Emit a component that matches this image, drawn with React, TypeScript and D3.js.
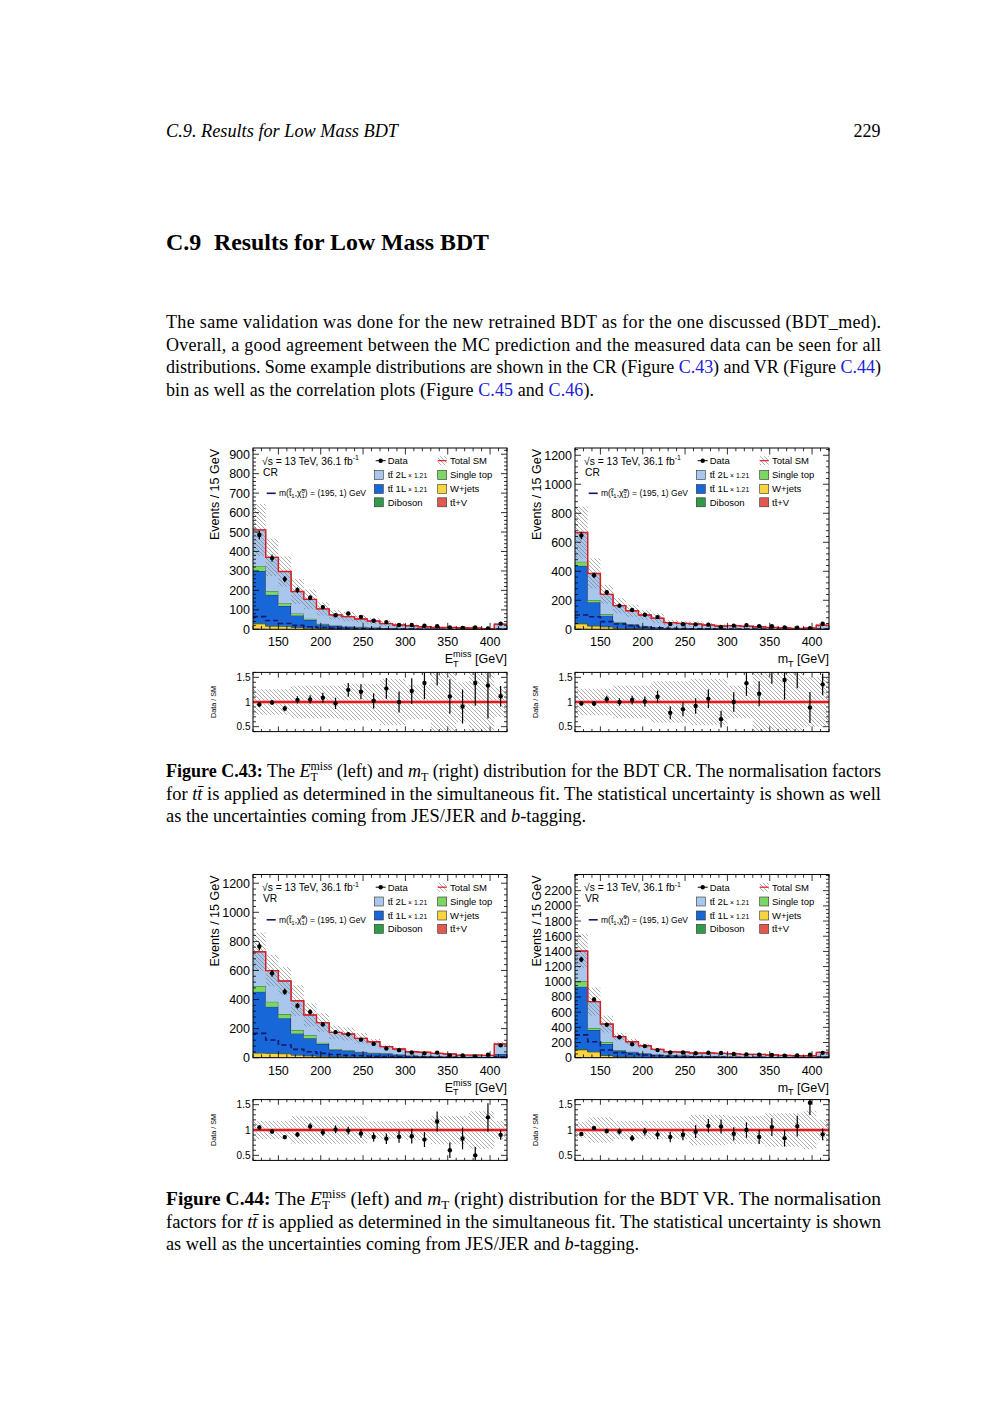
import React from 'react';
import * as d3 from 'd3';

// ---------------- data ----------------
const binEdges = [120, 135, 150, 165, 180, 195, 210, 225, 240, 255, 270, 285, 300, 315, 330, 345, 360, 375, 390, 405, 420];
const xTickLabels = [150, 200, 250, 300, 350, 400];
const ratioTickLabels = [0.5, 1, 1.5];
const yTicksCrMet = [0, 100, 200, 300, 400, 500, 600, 700, 800, 900];
const yTicksCrMt = [0, 200, 400, 600, 800, 1000, 1200];
const yTicksVrMet = [0, 200, 400, 600, 800, 1000, 1200];
const yTicksVrMt = [0, 200, 400, 600, 800, 1000, 1200, 1400, 1600, 1800, 2000, 2200];

const stackKeys = ['ttV', 'wjets', 'diboson', 'tt1L', 'singleTop', 'tt2L'];

// CR, E_T^miss
const crMetTtV = [3, 2, 2, 1.5, 1, 1, 1, 0.8, 0.6, 0.5, 0.4, 0.3, 0.3, 0.2, 0.2, 0.2, 0.1, 0.1, 0.1, 0.3];
const crMetWjets = [25, 14, 13, 8, 5, 4, 2, 2, 1.5, 1, 1, 0.5, 0.5, 0.5, 0.3, 0.3, 0.2, 0.2, 0.1, 0.5];
const crMetDiboson = [4, 3, 3, 2, 2, 1.5, 1.5, 1, 1, 1, 0.8, 0.6, 0.5, 0.5, 0.4, 0.4, 0.3, 0.3, 0.2, 0.8];
const crMetTt1L = [268, 158, 102, 60, 40, 18, 12, 8, 8, 5, 3, 2, 1.5, 1, 0.8, 0.6, 0.5, 0.3, 0.2, 1.5];
const crMetSingleTop = [26, 20, 14, 10, 6, 4, 3, 2.5, 2, 1.5, 1.2, 1, 0.8, 0.6, 0.5, 0.4, 0.3, 0.3, 0.2, 0.8];
const crMetTt2L = [185, 173, 163, 112.5, 100, 76.5, 54.5, 50.7, 39.9, 34, 22.6, 17.6, 14.4, 10.2, 6.8, 7.1, 6.3, 5.3, 2.2, 22.1];
const crMetData = [485, 366, 258, 202, 162, 114, 72, 81, 64, 44, 37, 22, 22, 18, 16, 10, 7, 9, 4, 29];
const crMetUnc = [0.26, 0.26, 0.26, 0.33, 0.33, 0.33, 0.33, 0.37, 0.37, 0.37, 0.47, 0.47, 0.35, 0.35, 0.6, 0.6, 0.4, 0.7, 0.7, 0.3];
const crMetSignal = [65, 45, 30, 20, 13, 9, 6, 4, 3, 2, 1.5, 1, 0.8, 0.6, 0.5, 0.4, 0.3, 0.3, 0.2, 0.8];

// CR, m_T
const crMtTtV = [4, 2, 2, 1, 1, 1, 0.8, 0.5, 0.5, 0.4, 0.3, 0.3, 0.3, 0.2, 0.2, 0.2, 0.1, 0.1, 0.1, 0.3];
const crMtWjets = [33, 20, 15, 6, 4, 3, 2, 1, 1, 0.8, 0.6, 0.5, 0.5, 0.4, 0.3, 0.3, 0.2, 0.2, 0.2, 0.5];
const crMtDiboson = [6, 4, 3, 3, 2, 2, 1.5, 1, 1, 0.8, 0.7, 0.6, 0.5, 0.5, 0.4, 0.3, 0.3, 0.3, 0.2, 0.8];
const crMtTt1L = [395, 160, 74, 35, 23, 12, 8, 5, 4, 3, 2.5, 2, 1.5, 1.2, 1, 0.8, 0.6, 0.5, 0.4, 2];
const crMtSingleTop = [28, 16, 9, 6, 4, 3, 2.5, 2, 1.5, 1.2, 1, 0.8, 0.7, 0.6, 0.5, 0.4, 0.3, 0.3, 0.3, 1];
const crMtTt2L = [201, 183, 138, 112, 94, 78, 61.2, 36.5, 33, 30.8, 24.9, 18.8, 21.5, 18.1, 15.6, 10, 7.5, 4.6, 7.8, 23.4];
const crMtData = [647, 373, 255, 163, 133, 100, 84, 36, 35, 34, 32, 15, 25, 29, 21, 21, 13, 11, 8, 38];
const crMtUnc = [0.27, 0.27, 0.27, 0.33, 0.33, 0.33, 0.42, 0.42, 0.42, 0.47, 0.47, 0.47, 0.33, 0.33, 0.65, 0.65, 0.65, 0.65, 0.5, 0.5];
const crMtSignal = [99, 87, 53, 37, 25, 15, 10, 7, 5, 4, 3, 2.5, 2, 1.5, 1.2, 1, 0.8, 0.6, 0.5, 2];

// VR, E_T^miss
const vrMetTtV = [5, 4, 3, 2.5, 2, 1.5, 1.2, 1, 0.8, 0.7, 0.5, 0.4, 0.3, 0.3, 0.2, 0.2, 0.2, 0.2, 0.1, 0.6];
const vrMetWjets = [26, 25, 24, 15, 10, 8, 6, 5, 4, 3, 2.5, 2, 1.5, 1.2, 1, 0.8, 0.6, 0.5, 0.4, 2];
const vrMetDiboson = [5, 4, 4, 3, 3, 3, 2, 2, 2, 1.5, 1.5, 1.2, 1, 1, 0.8, 0.7, 0.6, 0.5, 0.5, 2];
const vrMetTt1L = [418, 318, 240, 146.5, 118, 81.5, 44.8, 40, 30.2, 25.8, 23, 16.4, 10.7, 8.3, 7, 5.5, 4, 3.3, 2.6, 18.4];
const vrMetSingleTop = [39, 34, 29, 23, 23, 9, 6, 5, 4, 3, 2.5, 2, 1.5, 1.2, 1, 0.8, 0.6, 0.5, 0.4, 2];
const vrMetTt2L = [236, 214, 228, 202, 138, 138, 114, 110, 92, 76, 46, 38, 26, 25, 20, 17, 12, 13, 12, 69];
const vrMetData = [765, 581, 454, 357, 315, 229, 176, 161, 124, 95, 63, 52, 36, 30, 35, 15, 15, 9, 20, 85];
const vrMetUnc = [0.18, 0.18, 0.18, 0.27, 0.27, 0.27, 0.27, 0.27, 0.27, 0.17, 0.17, 0.17, 0.2, 0.2, 0.28, 0.28, 0.28, 0.37, 0.37, 0.18];
const vrMetSignal = [167, 122, 87, 57, 41, 30, 22, 17, 13, 10, 8, 6, 5, 4, 3, 2.5, 2, 1.5, 1.2, 6];

// VR, m_T
const vrMtTtV = [8, 5, 3, 2, 1.5, 1.2, 1, 0.8, 0.7, 0.6, 0.5, 0.5, 0.4, 0.4, 0.3, 0.3, 0.3, 0.2, 0.2, 0.6];
const vrMtWjets = [95, 70, 25, 12, 8, 6, 4, 3, 2.5, 2, 2, 1.8, 1.5, 1.2, 1, 1, 0.8, 0.7, 0.6, 2];
const vrMtDiboson = [10, 8, 6, 5, 4, 3, 3, 2.5, 2, 2, 2, 1.8, 1.5, 1.4, 1.2, 1, 1, 0.8, 0.8, 2.5];
const vrMtTt1L = [822, 281, 146, 71, 58.5, 41.8, 30, 23.7, 20.3, 17.4, 13.5, 11.1, 9.1, 7.8, 6.5, 5.2, 4.1, 3.6, 2.8, 12.9];
const vrMtSingleTop = [75, 27, 26, 10, 7, 5, 4, 3, 2.5, 2, 2, 1.8, 1.5, 1.2, 1, 1, 0.8, 0.7, 0.6, 2];
const vrMtTt2L = [395, 347, 237, 177, 132, 101, 68, 46, 47, 37, 41, 40, 39, 32, 34, 26.5, 24, 20, 21, 50];
const vrMtData = [1293, 768, 434, 269, 177, 153, 100, 68, 68, 59, 66, 61, 49, 44, 38, 37, 26, 28, 40, 64];
const vrMtUnc = [0.16, 0.25, 0.25, 0.18, 0.18, 0.18, 0.18, 0.18, 0.18, 0.3, 0.3, 0.3, 0.28, 0.28, 0.28, 0.33, 0.33, 0.33, 0.38, 0.2];
const vrMtSignal = [300, 211, 101, 66, 48, 35, 25, 18, 14, 11, 9, 7, 6, 5, 4, 3.5, 3, 2.5, 2, 6];

// ---------------- style ----------------
const stackFills: Record<string, string> = {
  ttV: '#e3574f',
  wjets: '#f8d43e',
  diboson: '#2f9a48',
  tt1L: '#1767d9',
  singleTop: '#79d762',
  tt2L: '#a9c7ec',
};
const signalColor = '#15156c';
const totalColor = '#e3191d';
const hatchColor = '#767676';
const SANS = "'Liberation Sans', Arial, Helvetica, sans-serif";
const SERIF = "'Liberation Serif', 'Times New Roman', serif";
const linkBlue = '#2020d8';

type PanelCfg = {
  key: string; x0: number; x1: number; yTop: number; yBot: number; rTop: number; rBot: number;
  yMax: number; yTicks: number[]; yMinorStep: number; region: string; xVar: string;
  stack: number[][]; data: number[]; unc: number[]; signal: number[];
};

const panels: PanelCfg[] = [
  { key: 'a', x0: 253, x1: 507, yTop: 448, yBot: 629.3, rTop: 672.4, rBot: 731.6, yMax: 932, yTicks: yTicksCrMet, yMinorStep: 20, region: 'CR', xVar: 'met',
    stack: [crMetTtV, crMetWjets, crMetDiboson, crMetTt1L, crMetSingleTop, crMetTt2L], data: crMetData, unc: crMetUnc, signal: crMetSignal },
  { key: 'b', x0: 575, x1: 829, yTop: 448, yBot: 629.3, rTop: 672.4, rBot: 731.6, yMax: 1250, yTicks: yTicksCrMt, yMinorStep: 40, region: 'CR', xVar: 'mt',
    stack: [crMtTtV, crMtWjets, crMtDiboson, crMtTt1L, crMtSingleTop, crMtTt2L], data: crMtData, unc: crMtUnc, signal: crMtSignal },
  { key: 'c', x0: 253, x1: 507, yTop: 874.5, yBot: 1057.7, rTop: 1099.6, rBot: 1160.4, yMax: 1260, yTicks: yTicksVrMet, yMinorStep: 40, region: 'VR', xVar: 'met',
    stack: [vrMetTtV, vrMetWjets, vrMetDiboson, vrMetTt1L, vrMetSingleTop, vrMetTt2L], data: vrMetData, unc: vrMetUnc, signal: vrMetSignal },
  { key: 'd', x0: 575, x1: 829, yTop: 874.5, yBot: 1057.7, rTop: 1099.6, rBot: 1160.4, yMax: 2413, yTicks: yTicksVrMt, yMinorStep: 50, region: 'VR', xVar: 'mt',
    stack: [vrMtTtV, vrMtWjets, vrMtDiboson, vrMtTt1L, vrMtSingleTop, vrMtTt2L], data: vrMtData, unc: vrMtUnc, signal: vrMtSignal },
];

const tbar = 't\u0304';

function Legend({ p }: { p: PanelCfg }) {
  const lx = p.x0, ly = p.yTop;
  const rows = [12.7, 27, 41, 54.3].map((d) => ly + d);
  const c1 = lx + 121.3, c2 = lx + 184.7, bw = 9, bh = 9;
  const t1 = lx + 134.7, t2 = lx + 197;
  const box = (bx: number, cy: number, fill: string) => (
    <rect x={bx} y={cy - bh / 2} width={bw} height={bh} fill={fill} stroke="#333" strokeWidth={0.6} />
  );
  const ttLabel = (lep: string, cy: number) => (
    <text x={t1} y={cy + 3.4} fontSize={9.5}>t{tbar} {lep}<tspan fontSize={6.8}> {'\u00d7'} 1.21</tspan></text>
  );
  return (
    <g fontFamily={SANS} fontSize={9.5} fill="#000">
      <text x={lx + 9} y={ly + 16.5} fontSize={10.3}>{'\u221a'}s = 13 TeV, 36.1 fb<tspan fontSize={7} dy={-4.5}>-1</tspan></text>
      <text x={lx + 10} y={ly + 27.5} fontSize={10.3}>{p.region}</text>
      <line x1={lx + 13.7} x2={lx + 22.7} y1={ly + 45.3} y2={ly + 45.3} stroke={signalColor} strokeWidth={1.6} />
      <text x={lx + 26} y={ly + 48.3} fontSize={8.5}>
        m({'t\u0303'}<tspan fontSize={6} dy={2}>1</tspan><tspan dy={-2}>,</tspan>{'\u03c7\u0303'}<tspan fontSize={6} dy={-3.5}>0</tspan><tspan fontSize={6} dx={-3.3} dy={5.5}>1</tspan><tspan dy={-2}>) = (195, 1) GeV</tspan>
      </text>
      {/* column 1 */}
      <line x1={c1 + 1.4} x2={c1 + 11.4} y1={rows[0]} y2={rows[0]} stroke="#000" strokeWidth={1} />
      <circle cx={c1 + 6.4} cy={rows[0]} r={2.2} fill="#000" />
      <text x={t1} y={rows[0] + 3.4}>Data</text>
      {box(c1, rows[1], stackFills.tt2L)}
      {ttLabel('2L', rows[1])}
      {box(c1, rows[2], stackFills.tt1L)}
      {ttLabel('1L', rows[2])}
      {box(c1, rows[3], stackFills.diboson)}
      <text x={t1} y={rows[3] + 3.4}>Diboson</text>
      {/* column 2 */}
      <rect x={c2} y={rows[0] - bh / 2} width={bw} height={bh} fill="url(#hatch)" />
      <line x1={c2} x2={c2 + bw} y1={rows[0]} y2={rows[0]} stroke={totalColor} strokeWidth={1.2} />
      <text x={t2} y={rows[0] + 3.4}>Total SM</text>
      {box(c2, rows[1], stackFills.singleTop)}
      <text x={t2} y={rows[1] + 3.4}>Single top</text>
      {box(c2, rows[2], stackFills.wjets)}
      <text x={t2} y={rows[2] + 3.4}>W+jets</text>
      {box(c2, rows[3], stackFills.ttV)}
      <text x={t2} y={rows[3] + 3.4}>t{tbar}+V</text>
    </g>
  );
}

function Panel({ p }: { p: PanelCfg }) {
  const nb = binEdges.length - 1;
  const x = d3.scaleLinear().domain([binEdges[0], binEdges[nb]]).range([p.x0, p.x1]);
  const y = d3.scaleLinear().domain([0, p.yMax]).range([p.yBot, p.yTop]);
  const r = d3.scaleLinear().domain([0.4, 1.6]).range([p.rBot, p.rTop]);
  const rows = d3.range(nb).map((i) => {
    const o: any = {};
    stackKeys.forEach((k, j) => { o[k] = p.stack[j][i]; });
    return o;
  });
  const series = d3.stack<any>().keys(stackKeys)(rows);
  const total = rows.map((_, i) => series[series.length - 1][i][1]);
  const toSteps = (lo: number[], hi: number[]) => [
    ...d3.range(nb).map((i) => ({ x: binEdges[i], lo: lo[i], hi: hi[i] })),
    { x: binEdges[nb], lo: lo[nb - 1], hi: hi[nb - 1] },
  ];
  const stepArea = d3.area<any>().x((d) => x(d.x)).y0((d) => y(d.lo)).y1((d) => y(d.hi)).curve(d3.curveStepAfter);
  const stepLine = d3.line<any>().x((d) => x(d.x)).y((d) => y(d.hi)).curve(d3.curveStepAfter);
  const zeros = p.signal.map(() => 0);
  const centers = d3.range(nb).map((i) => x((binEdges[i] + binEdges[i + 1]) / 2));
  const xMinor = d3.range(binEdges[0], binEdges[nb] + 0.1, 10);
  const yMinor = d3.range(0, p.yMax, p.yMinorStep);
  const rMinor = d3.range(4, 17).map((v) => v / 10);
  const W = p.x1 - p.x0;
  const ratios = p.data.map((d, i) => d / total[i]);
  const ratioErr = p.data.map((d, i) => Math.sqrt(d) / total[i]);

  return (
    <g>
      <defs>
        <clipPath id={`cm-${p.key}`}><rect x={p.x0} y={p.yTop} width={W} height={p.yBot - p.yTop} /></clipPath>
        <clipPath id={`cr-${p.key}`}><rect x={p.x0} y={p.rTop} width={W} height={p.rBot - p.rTop} /></clipPath>
      </defs>
      {/* main pad */}
      <g clipPath={`url(#cm-${p.key})`}>
        {series.map((s, j) => {
          const pts = toSteps(s.map((d) => d[0]), s.map((d) => d[1]));
          return (
            <g key={j}>
              <path d={stepArea(pts) || ''} fill={stackFills[stackKeys[j]]} />
              <path d={stepLine(pts) || ''} fill="none" stroke="#1c1c2a" strokeWidth={0.6} />
            </g>
          );
        })}
        {total.map((t, i) => {
          const top = y(t * (1 + p.unc[i]));
          const bot = y(Math.max(0, t * (1 - p.unc[i])));
          return <rect key={i} x={x(binEdges[i])} width={x(binEdges[i + 1]) - x(binEdges[i])} y={top} height={bot - top} fill="url(#hatch)" />;
        })}
        <path d={stepLine(toSteps(zeros, p.signal)) || ''} fill="none" stroke={signalColor} strokeWidth={1.6} strokeDasharray="5,3" />
        <path d={stepLine(toSteps(total, total)) || ''} fill="none" stroke={totalColor} strokeWidth={1.4} />
        {p.data.map((d, i) => (
          <g key={i}>
            <line x1={centers[i]} x2={centers[i]} y1={y(d - Math.sqrt(d))} y2={y(d + Math.sqrt(d))} stroke="#000" strokeWidth={1.2} />
            <circle cx={centers[i]} cy={y(d)} r={2.2} fill="#000" />
          </g>
        ))}
      </g>
      {/* axes ticks */}
      <g stroke="#000" strokeWidth={0.8}>
        {xMinor.map((v, i) => {
          const L = xTickLabels.includes(v) ? 6.5 : 3.3;
          return (
            <g key={i}>
              <line x1={x(v)} x2={x(v)} y1={p.yBot} y2={p.yBot - L} />
              <line x1={x(v)} x2={x(v)} y1={p.yTop} y2={p.yTop + L} />
              <line x1={x(v)} x2={x(v)} y1={p.rBot} y2={p.rBot - L * 0.8} />
              <line x1={x(v)} x2={x(v)} y1={p.rTop} y2={p.rTop + L * 0.8} />
            </g>
          );
        })}
        {yMinor.map((v, i) => {
          const L = p.yTicks.includes(v) ? 6 : 3;
          return (
            <g key={i}>
              <line x1={p.x0} x2={p.x0 + L} y1={y(v)} y2={y(v)} />
              <line x1={p.x1} x2={p.x1 - L} y1={y(v)} y2={y(v)} />
            </g>
          );
        })}
        {rMinor.map((v, i) => {
          const L = ratioTickLabels.some((t) => Math.abs(t - v) < 1e-6) ? 6 : 3;
          return (
            <g key={i}>
              <line x1={p.x0} x2={p.x0 + L} y1={r(v)} y2={r(v)} />
              <line x1={p.x1} x2={p.x1 - L} y1={r(v)} y2={r(v)} />
            </g>
          );
        })}
      </g>
      <rect x={p.x0} y={p.yTop} width={W} height={p.yBot - p.yTop} fill="none" stroke="#000" strokeWidth={1} />
      <g fontFamily={SANS} fontSize={12.5} fill="#000">
        {xTickLabels.map((v) => (
          <text key={v} x={x(v)} y={p.yBot + 17} textAnchor="middle">{v}</text>
        ))}
        {p.yTicks.map((v) => (
          <text key={v} x={p.x0 - 3} y={y(v) + 4.5} textAnchor="end">{v}</text>
        ))}
        <text transform={`translate(${p.x0 - 34},${p.yTop + 1}) rotate(-90)`} textAnchor="end">Events / 15 GeV</text>
        {p.xVar === 'met' ? (
          <text x={p.x1} y={p.yBot + 34} textAnchor="end">
            E<tspan fontSize={9} dy={-6}>miss</tspan><tspan fontSize={9} dx={-18.5} dy={9.5}>T</tspan><tspan dx={13} dy={-3.5}> [GeV]</tspan>
          </text>
        ) : (
          <text x={p.x1} y={p.yBot + 34} textAnchor="end">
            m<tspan fontSize={9} dy={3.5}>T</tspan><tspan dy={-3.5}> [GeV]</tspan>
          </text>
        )}
      </g>
      <Legend p={p} />
      {/* ratio pad */}
      <g clipPath={`url(#cr-${p.key})`}>
        {p.unc.map((u, i) => (
          <rect key={i} x={x(binEdges[i])} width={x(binEdges[i + 1]) - x(binEdges[i])} y={r(1 + u)} height={r(1 - u) - r(1 + u)} fill="url(#hatch)" />
        ))}
        <line x1={p.x0} x2={p.x1} y1={r(1)} y2={r(1)} stroke="#f19a9a" strokeWidth={3.6} />
        <line x1={p.x0} x2={p.x1} y1={r(1)} y2={r(1)} stroke={totalColor} strokeWidth={1.8} />
        {ratios.map((v, i) => (
          <g key={i}>
            <line x1={centers[i]} x2={centers[i]} y1={r(v - ratioErr[i])} y2={r(v + ratioErr[i])} stroke="#000" strokeWidth={1.2} />
            <circle cx={centers[i]} cy={r(v)} r={2.2} fill="#000" />
          </g>
        ))}
      </g>
      <rect x={p.x0} y={p.rTop} width={W} height={p.rBot - p.rTop} fill="none" stroke="#000" strokeWidth={1} />
      <g fontFamily={SANS} fontSize={10} fill="#000">
        {ratioTickLabels.map((v) => (
          <text key={v} x={p.x0 - 2.5} y={r(v) + 3.6} textAnchor="end">{v}</text>
        ))}
        <text transform={`translate(${p.x0 - 37},${(p.rTop + p.rBot) / 2}) rotate(-90)`} textAnchor="middle" fontSize={7.2}>Data / SM</text>
      </g>
    </g>
  );
}

function Emiss() {
  return (
    <>
      <tspan fontStyle="italic">E</tspan><tspan fontSize={12} dy={-7}>miss</tspan><tspan fontSize={12} dx={-22} dy={11}>T</tspan><tspan dx={14.5} dy={-4}> (left) and </tspan><tspan fontStyle="italic">m</tspan><tspan fontSize={12} dy={3.5}>T</tspan><tspan dy={-3.5}> (right) distribution for the BDT </tspan>
    </>
  );
}

export default function App() {
  return (
    <svg width={1000} height={1414} viewBox="0 0 1000 1414" style={{ position: 'absolute', left: 0, top: 0, background: '#fff' }}>
      <defs>
        <pattern id="hatch" patternUnits="userSpaceOnUse" width={4} height={4}>
          <path d="M0,0 L4,4 M-1,3 L1,5 M3,-1 L5,1" stroke={hatchColor} strokeWidth={0.6} />
        </pattern>
      </defs>
      <rect x={0} y={0} width={1000} height={1414} fill="#fff" />
      <g fontFamily={SERIF} fill="#000">
        <text x={166} y={137} fontSize={18} fontStyle="italic" textLength={232} lengthAdjust="spacingAndGlyphs">C.9. Results for Low Mass BDT</text>
        <text x={880.5} y={137} fontSize={18} textAnchor="end">229</text>
        <text x={166} y={250} fontSize={24} fontWeight="bold">C.9</text>
        <text x={214} y={250} fontSize={24} fontWeight="bold" textLength={275} lengthAdjust="spacingAndGlyphs">Results for Low Mass BDT</text>

        <g fontSize={18}>
          <text x={166} y={328} textLength={715}>The same validation was done for the new retrained BDT as for the one discussed (BDT_med).</text>
          <text x={166} y={350.5} textLength={715}>Overall, a good agreement between the MC prediction and the measured data can be seen for all</text>
          <text x={166} y={373} textLength={715}>distributions. Some example distributions are shown in the CR (Figure <tspan fill={linkBlue}>C.43</tspan>) and VR (Figure <tspan fill={linkBlue}>C.44</tspan>)</text>
          <text x={166} y={395.5} textLength={428}>bin as well as the correlation plots (Figure <tspan fill={linkBlue}>C.45</tspan> and <tspan fill={linkBlue}>C.46</tspan>).</text>
        </g>

        <g fontSize={18}>
          <text x={166} y={777} textLength={715} lengthAdjust="spacingAndGlyphs"><tspan fontWeight="bold">Figure C.43:</tspan> The <Emiss />CR. The normalisation factors</text>
          <text x={166} y={799.5} textLength={715} lengthAdjust="spacingAndGlyphs">for <tspan fontStyle="italic">t{tbar}</tspan> is applied as determined in the simultaneous fit. The statistical uncertainty is shown as well</text>
          <text x={166} y={822} textLength={420} lengthAdjust="spacingAndGlyphs">as the uncertainties coming from JES/JER and <tspan fontStyle="italic">b</tspan>-tagging.</text>

          <text x={166} y={1205} textLength={715} lengthAdjust="spacingAndGlyphs"><tspan fontWeight="bold">Figure C.44:</tspan> The <Emiss />VR. The normalisation</text>
          <text x={166} y={1227.5} textLength={715} lengthAdjust="spacingAndGlyphs">factors for <tspan fontStyle="italic">t{tbar}</tspan> is applied as determined in the simultaneous fit. The statistical uncertainty is shown</text>
          <text x={166} y={1250} textLength={473} lengthAdjust="spacingAndGlyphs">as well as the uncertainties coming from JES/JER and <tspan fontStyle="italic">b</tspan>-tagging.</text>
        </g>
      </g>
      {panels.map((p) => <Panel key={p.key} p={p} />)}
    </svg>
  );
}
